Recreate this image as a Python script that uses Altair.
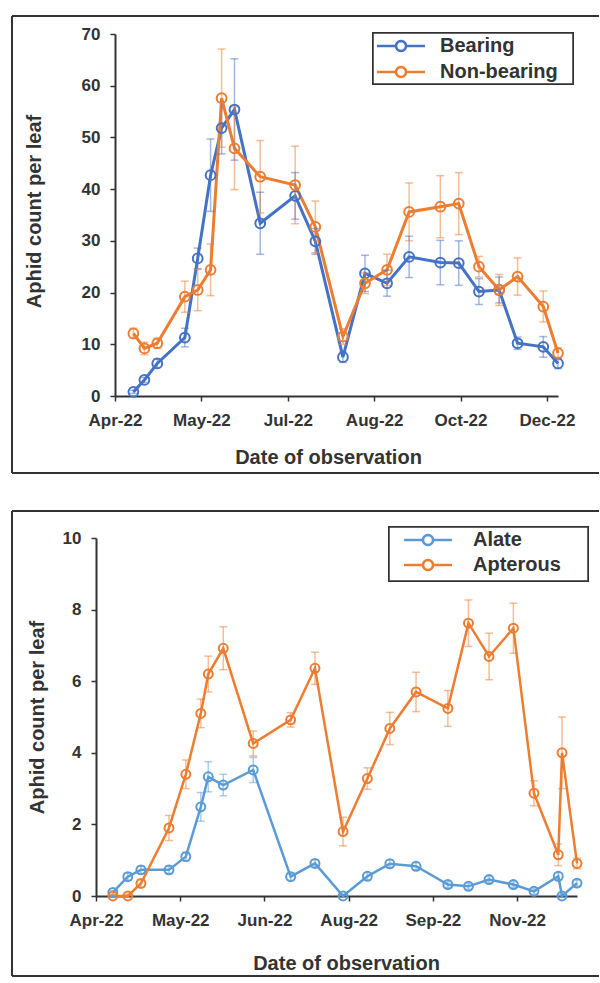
import math
import altair as alt
import pandas as pd

# ---------------- Panel 1: Bearing vs Non-bearing ----------------
top_dates = ["2022-04-22", "2022-04-28", "2022-05-05", "2022-05-20", "2022-05-27",
             "2022-06-03", "2022-06-09", "2022-06-16", "2022-06-30", "2022-07-19",
             "2022-07-30", "2022-08-14", "2022-08-26", "2022-09-07", "2022-09-19",
             "2022-10-06", "2022-10-16", "2022-10-27", "2022-11-07", "2022-11-17",
             "2022-12-01", "2022-12-09"]
top_series = ["Bearing", "Non-bearing"]
bearing_mean = [0.8, 3.1, 6.3, 11.3, 26.6, 42.7, 51.8, 55.4, 33.4, 38.7, 29.9,
                7.5, 23.7, 21.8, 26.9, 25.8, 25.7, 20.2, 20.5, 10.2, 9.5, 6.3]
bearing_se = [0.3, 0.5, 0.8, 1.8, 2.0, 7.0, 5.0, 9.8, 6.0, 4.5, 2.5,
              1.0, 3.5, 2.5, 4.0, 4.3, 4.3, 2.5, 2.5, 1.2, 2.0, 1.0]
nonbearing_mean = [12.1, 9.2, 10.2, 19.2, 20.5, 24.4, 57.6, 47.9, 42.4, 40.8, 32.7,
                   11.5, 21.8, 24.4, 35.6, 36.6, 37.2, 25.0, 20.5, 23.1, 17.3, 8.3]
nonbearing_se = [1.0, 1.2, 1.0, 3.0, 4.0, 5.0, 9.5, 8.0, 7.0, 7.5, 5.0,
                 1.5, 2.0, 3.0, 5.6, 6.0, 6.0, 2.0, 3.0, 3.6, 3.0, 1.0]
top_colors = ["#4472C4", "#ED7D31"]
top_x_ticks = ["2022-04-12", "2022-05-29", "2022-07-15", "2022-08-31", "2022-10-17", "2022-12-03"]
top_x_domain = ["2022-04-12", "2022-12-09"]
top_y_ticks = [0, 10, 20, 30, 40, 50, 60, 70]

# ---------------- Panel 2: Alate vs Apterous ----------------
bot_dates = ["2022-04-10", "2022-04-18", "2022-04-25", "2022-05-10", "2022-05-19",
             "2022-05-27", "2022-05-31", "2022-06-08", "2022-06-24", "2022-07-14",
             "2022-07-27", "2022-08-11", "2022-08-24", "2022-09-05", "2022-09-19",
             "2022-10-06", "2022-10-17", "2022-10-28", "2022-11-10", "2022-11-21",
             "2022-12-04", "2022-12-06", "2022-12-14"]
bot_series = ["Alate", "Apterous"]
alate_mean = [0.1, 0.54, 0.73, 0.73, 1.1, 2.49, 3.33, 3.1, 3.52, 0.54, 0.91, 0.0,
              0.55, 0.9, 0.83, 0.32, 0.27, 0.46, 0.32, 0.13, 0.55, 0.0, 0.36]
alate_se = [0.05, 0.1, 0.1, 0.1, 0.12, 0.4, 0.42, 0.3, 0.35, 0.1, 0.1, 0.05,
            0.1, 0.1, 0.1, 0.08, 0.08, 0.08, 0.08, 0.08, 0.1, 0.05, 0.08]
apterous_mean = [0.0, 0.0, 0.35, 1.9, 3.4, 5.1, 6.2, 6.92, 4.26, 4.92, 6.36, 1.8,
                 3.28, 4.68, 5.7, 5.24, 7.62, 6.69, 7.48, 2.87, 1.15, 4.0, 0.91]
apterous_se = [0.05, 0.05, 0.1, 0.35, 0.4, 0.4, 0.5, 0.6, 0.35, 0.2, 0.45, 0.4,
               0.3, 0.45, 0.55, 0.5, 0.65, 0.65, 0.7, 0.35, 0.3, 1.0, 0.15]
bot_colors = ["#5B9BD5", "#ED7D31"]
bot_x_ticks = ["2022-04-01", "2022-05-16", "2022-06-30", "2022-08-14", "2022-09-28", "2022-11-12"]
bot_x_domain = ["2022-04-01", "2022-12-14"]
bot_y_ticks = [0, 2, 4, 6, 8, 10]

FONT = "Liberation Sans"
INK = "#333333"
# legend glyph: a line with a small ring in the middle (ring drawn as a 20-gon)
_ring = [(math.cos(2 * math.pi * k / 20), math.sin(2 * math.pi * k / 20)) for k in range(20)]
SYMBOL = ("M-4.8,0L-1,0M1,0L4.8,0M" + "L".join(f"{x:.3f},{y:.3f}" for x, y in _ring) + "Z")


def dt(s):
    y, m, d = (int(v) for v in s.split("-"))
    return alt.DateTime(year=y, month=m, date=d, utc=True)


def build_df(dates, names, means, ses):
    rows = []
    for name, mv, sv in zip(names, means, ses):
        for d, v, s in zip(dates, mv, sv):
            rows.append({"date": d, "series": name, "value": v,
                         "lo": max(0.0, v - s), "hi": v + s})
    return pd.DataFrame(rows)


def panel(df, names, colors, x_ticks, x_domain, y_ticks, width, x_range, y_offset,
          height, xtitle_pos, ytitle_pos, lg, line_w, pt_size):
    xscale = alt.Scale(type="utc", domain=[dt(x_domain[0]), dt(x_domain[1])],
                       range=x_range)
    xaxis = alt.Axis(values=[dt(t) for t in x_ticks],
                     labelExpr="utcFormat(datum.value, '%b-%y')",
                     labelFlush=False, labelOverlap=False,
                     title="Date of observation",
                     titleX=xtitle_pos[0], titleY=xtitle_pos[1],
                     labelPadding=11, tickSize=5)
    yscale = alt.Scale(domain=[y_ticks[0], y_ticks[-1]], nice=False)
    yaxis = alt.Axis(values=y_ticks, title="Aphid count per leaf",
                     titleX=ytitle_pos[0], titleY=ytitle_pos[1],
                     labelPadding=10, tickSize=5, offset=y_offset)
    xs = alt.X("date:T", scale=xscale, axis=xaxis)

    def Y(field):
        return alt.Y(field, type="quantitative", scale=yscale, axis=yaxis)

    cscale = alt.Scale(domain=names, range=colors)
    nolegend = alt.Color("series:N", scale=cscale, legend=None)
    base = alt.Chart(df)
    line = base.mark_line(strokeWidth=line_w).encode(
        x=xs, y=Y("value"),
        color=alt.Color("series:N", scale=cscale,
                        legend=alt.Legend(title=None, orient="none",
                                          legendX=lg["x"], legendY=lg["y"],
                                          symbolType=SYMBOL, symbolSize=100,
                                          symbolStrokeWidth=2.5,
                                          symbolFillColor="white",
                                          symbolOffset=lg["so"],
                                          labelOffset=lg["lo"],
                                          labelFont=FONT, labelFontSize=20,
                                          labelFontWeight="bold", labelColor=INK,
                                          padding=3, rowPadding=lg["rp"])))
    err = base.mark_rule(strokeWidth=1.5, opacity=0.5).encode(
        x=xs, y=Y("lo"), y2="hi:Q", color=nolegend)
    cap_lo = base.mark_tick(orient="horizontal", size=8, thickness=1.5, opacity=0.5).encode(
        x=xs, y=Y("lo"), color=nolegend)
    cap_hi = base.mark_tick(orient="horizontal", size=8, thickness=1.5, opacity=0.5).encode(
        x=xs, y=Y("hi"), color=nolegend)
    pts = base.mark_point(shape="circle", filled=False, size=pt_size, strokeWidth=2,
                          opacity=1).encode(x=xs, y=Y("value"), color=nolegend)
    # legend frame and panel frame (decorations)
    box = alt.Chart(df).mark_rect(fill="white", stroke=INK, strokeWidth=1.5).encode(
        x=alt.value(lg["bx"][0]), x2=alt.value(lg["bx"][1]),
        y=alt.value(lg["by"][0]), y2=alt.value(lg["by"][1]))
    fx, fy1, fy2, fx2 = -103, lg["fy1"], lg["fy2"], 484
    fl = alt.Chart(df).mark_rule(color=INK, strokeWidth=2)
    left = fl.encode(x=alt.value(fx), y=alt.value(fy1), y2=alt.value(fy2))
    topr = fl.encode(x=alt.value(fx), x2=alt.value(fx2), y=alt.value(fy1))
    botr = fl.encode(x=alt.value(fx), x2=alt.value(fx2), y=alt.value(fy2))
    return alt.layer(line, err, cap_lo, cap_hi, pts, box, left, topr, botr).resolve_legend(
        color="independent").properties(width=width, height=height)


top_df = build_df(top_dates, top_series, [bearing_mean, nonbearing_mean],
                  [bearing_se, nonbearing_se])
bot_df = build_df(bot_dates, bot_series, [alate_mean, apterous_mean],
                  [alate_se, apterous_se])

top = panel(top_df, top_series, top_colors, top_x_ticks, top_x_domain, top_y_ticks,
            443, [0, 443], 0, 362, (213, 51), (-71, 177),
            {"x": 258, "y": -1, "so": 15, "lo": 29, "rp": 6, "fy1": -18, "fy2": 439,
             "bx": (258, 458), "by": (-1, 50)}, 3, 95)
bottom = panel(bot_df, bot_series, bot_colors, bot_x_ticks, bot_x_domain, bot_y_ticks,
               462, [-19, 462], 19, 358, (231, 57), (-49, 179),
               {"x": 274, "y": -11, "so": 26, "lo": 35, "rp": 5, "fy1": -27, "fy2": 438,
                "bx": (274, 473), "by": (-11, 43)}, 2.5, 80)

chart = alt.vconcat(top, bottom, spacing=36).resolve_scale(
    color="independent"
).properties(
    background="white",
    padding={"left": 11, "top": 15, "right": 0, "bottom": 0}
).configure_view(stroke=None).configure_axis(
    grid=False, domainColor=INK, domainWidth=2, tickColor=INK, tickWidth=1.5,
    labelFont=FONT, labelFontSize=17, labelFontWeight="bold", labelColor=INK,
    titleFont=FONT, titleFontSize=20, titleFontWeight="bold", titleColor=INK
)

chart.save("out.html", embed_options={"renderer": "svg", "actions": False})
